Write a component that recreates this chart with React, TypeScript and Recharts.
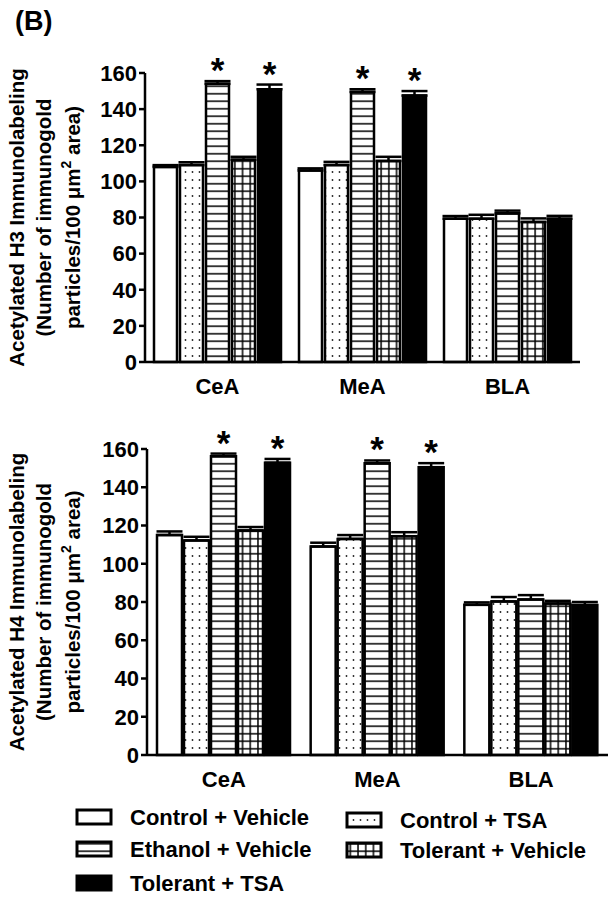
import React from "react";
import { Bar, BarChart, ErrorBar, LabelList, XAxis, YAxis } from "recharts";

const FONT = "'Liberation Sans', Arial, Helvetica, sans-serif";

const REGIONS = ["CeA", "MeA", "BLA"];
const GROUPS = [
  "Control + Vehicle",
  "Control + TSA",
  "Ethanol + Vehicle",
  "Tolerant + Vehicle",
  "Tolerant + TSA",
];
const Y_TICKS = [0, 20, 40, 60, 80, 100, 120, 140, 160];

// significance marks: Ethanol + Vehicle and Tolerant + TSA, in CeA and MeA
const STARRED_GROUPS = [2, 4];
const STARS = ["*", "*", ""];

// Acetylated H3 (means, then SEM), values in REGIONS order
const H3_CONTROL_VEHICLE = [108, 106, 79.3];
const H3_CONTROL_TSA = [109, 109, 79.3];
const H3_ETHANOL_VEHICLE = [154, 149.5, 82.3];
const H3_TOLERANT_VEHICLE = [112, 111.3, 77.5];
const H3_TOLERANT_TSA = [151, 147.5, 79.3];

const H3_SEM_CONTROL_VEHICLE = [1, 1.2, 1.5];
const H3_SEM_CONTROL_TSA = [1.6, 1.8, 2.2];
const H3_SEM_ETHANOL_VEHICLE = [1.5, 1.5, 1.5];
const H3_SEM_TOLERANT_VEHICLE = [1.6, 2.3, 2];
const H3_SEM_TOLERANT_TSA = [2.6, 2.5, 1.6];

// Acetylated H4
const H4_CONTROL_VEHICLE = [115, 109, 78.5];
const H4_CONTROL_TSA = [112.2, 113, 80.3];
const H4_ETHANOL_VEHICLE = [156.2, 152.5, 81.3];
const H4_TOLERANT_VEHICLE = [117.4, 114.4, 79.2];
const H4_TOLERANT_TSA = [152.8, 150.5, 78.4];

const H4_SEM_CONTROL_VEHICLE = [1.9, 2, 1.3];
const H4_SEM_CONTROL_TSA = [1.9, 2, 2.3];
const H4_SEM_ETHANOL_VEHICLE = [1.4, 1.5, 2.3];
const H4_SEM_TOLERANT_VEHICLE = [1.8, 2.1, 1.4];
const H4_SEM_TOLERANT_TSA = [2, 2.1, 1.6];

const FILLS = ["#fff", "url(#pat-dots)", "url(#pat-hlines)", "url(#pat-grid)", "#000"];

const LEGEND_POS = [
  { g: 0, x: 77, y: 817 },
  { g: 2, x: 77, y: 849 },
  { g: 4, x: 77, y: 883 },
  { g: 1, x: 347, y: 820 },
  { g: 3, x: 347, y: 850 },
];

function buildRows(means: number[][], sems: number[][]) {
  return REGIONS.map((region, r) => {
    const row: Record<string, unknown> = { region };
    means.forEach((m, g) => {
      row[`g${g}`] = m[r];
      row[`e${g}`] = [0, sems[g][r]];
      row[`s${g}`] = STARRED_GROUPS.includes(g) ? STARS[r] : "";
    });
    return row;
  });
}

function starLabel(means: number[], sems: number[]) {
  return (p: any) => {
    const { x, y, width, height, index, value } = p;
    if (!value) return null;
    const perUnit = Number(height) / means[index];
    const capY = Number(y) - sems[index] * perUnit;
    return (
      <text
        x={Number(x) + Number(width) / 2}
        y={capY + 1}
        textAnchor="middle"
        fontSize={35}
        fontWeight="bold"
        fontFamily={FONT}
        fill="#000"
      >
        {value}
      </text>
    );
  };
}

function Panel({
  means,
  sems,
  width,
  height,
  margin,
  catGap,
  gap,
}: {
  means: number[][];
  sems: number[][];
  width: number;
  height: number;
  margin: { top: number; right: number; bottom: number; left: number };
  catGap: number;
  gap: number;
}) {
  const rows = buildRows(means, sems);
  return (
    <BarChart
      width={width}
      height={height}
      data={rows}
      margin={margin}
      barCategoryGap={catGap}
      barGap={gap}
    >
      <XAxis
        dataKey="region"
        axisLine={{ stroke: "#000", strokeWidth: 2.5 }}
        tickLine={false}
        tickMargin={10}
        tick={{ fontSize: 22, fontWeight: "bold", fill: "#000", fontFamily: FONT }}
        height={30}
      />
      <YAxis
        domain={[0, 160]}
        ticks={Y_TICKS}
        width={60}
        axisLine={{ stroke: "#000", strokeWidth: 2.5 }}
        tickLine={{ stroke: "#000", strokeWidth: 2.5 }}
        tickSize={6}
        tick={{ fontSize: 22, fontWeight: "bold", fill: "#000", fontFamily: FONT }}
      />
      {GROUPS.map((name, g) => (
        <Bar
          key={name}
          name={name}
          dataKey={`g${g}`}
          fill={FILLS[g]}
          stroke="#000"
          strokeWidth={2.5}
          isAnimationActive={false}
        >
          <ErrorBar
            dataKey={`e${g}`}
            width={13}
            stroke="#000"
            strokeWidth={2.5}
            isAnimationActive={false}
          />
          {STARRED_GROUPS.includes(g) && (
            <LabelList dataKey={`s${g}`} content={starLabel(means[g], sems[g])} />
          )}
        </Bar>
      ))}
    </BarChart>
  );
}

function YTitle({ cy, histone }: { cy: number; histone: string }) {
  const t = (x: number) => `translate(${x},${cy}) rotate(-90)`;
  const common = {
    textAnchor: "middle" as const,
    fontSize: 20.5,
    fontWeight: "bold" as const,
    fontFamily: FONT,
    fill: "#000",
  };
  return (
    <g>
      <text transform={t(24)} {...common}>
        {`Acetylated ${histone} Immunolabeling`}
      </text>
      <text transform={t(51)} {...common}>
        (Number of immunogold
      </text>
      <text transform={t(80)} {...common}>
        particles/100 μm
        <tspan dy={-9} fontSize={14}>
          2
        </tspan>
        <tspan dy={9}> area)</tspan>
      </text>
    </g>
  );
}

function LegendIcon({ g, x, y }: { g: number; x: number; y: number }) {
  return (
    <rect
      x={x}
      y={y - 7}
      width={34}
      height={14}
      fill={FILLS[g]}
      stroke="#000"
      strokeWidth={3}
    />
  );
}

export default function App() {
  const h3Means = [H3_CONTROL_VEHICLE, H3_CONTROL_TSA, H3_ETHANOL_VEHICLE, H3_TOLERANT_VEHICLE, H3_TOLERANT_TSA];
  const h3Sems = [H3_SEM_CONTROL_VEHICLE, H3_SEM_CONTROL_TSA, H3_SEM_ETHANOL_VEHICLE, H3_SEM_TOLERANT_VEHICLE, H3_SEM_TOLERANT_TSA];
  const h4Means = [H4_CONTROL_VEHICLE, H4_CONTROL_TSA, H4_ETHANOL_VEHICLE, H4_TOLERANT_VEHICLE, H4_TOLERANT_TSA];
  const h4Sems = [H4_SEM_CONTROL_VEHICLE, H4_SEM_CONTROL_TSA, H4_SEM_ETHANOL_VEHICLE, H4_SEM_TOLERANT_VEHICLE, H4_SEM_TOLERANT_TSA];

  return (
    <div
      style={{
        position: "absolute",
        left: 0,
        top: 0,
        width: 614,
        height: 898,
        background: "#fff",
        fontFamily: FONT,
      }}
    >
      <svg width={614} height={898} style={{ position: "absolute", left: 0, top: 0 }}>
        <defs>
          <pattern id="pat-dots" patternUnits="userSpaceOnUse" width={7} height={8}>
            <rect width={7} height={8} fill="#fff" />
            <circle cx={3.5} cy={4} r={0.9} fill="#222" />
          </pattern>
          <pattern id="pat-hlines" patternUnits="userSpaceOnUse" width={8} height={7.5}>
            <rect width={8} height={7.5} fill="#fff" />
            <line x1={0} x2={8} y1={3.75} y2={3.75} stroke="#000" strokeWidth={1.5} />
          </pattern>
          <pattern id="pat-grid" patternUnits="userSpaceOnUse" width={7.7} height={7.5}>
            <rect width={7.7} height={7.5} fill="#fff" />
            <line x1={0} x2={7.7} y1={3.75} y2={3.75} stroke="#000" strokeWidth={1.5} />
            <line x1={3.85} x2={3.85} y1={0} y2={7.5} stroke="#000" strokeWidth={1.5} />
          </pattern>
        </defs>
      </svg>

      <div style={{ position: "absolute", left: 0, top: 0 }}>
        <Panel
          means={h3Means}
          sems={h3Sems}
          width={614}
          height={400}
          margin={{ top: 73, right: 34, bottom: 8, left: 85 }}
          catGap={9}
          gap={3}
        />
      </div>
      <div style={{ position: "absolute", left: 0, top: 400 }}>
        <Panel
          means={h4Means}
          sems={h4Sems}
          width={614}
          height={400}
          margin={{ top: 49, right: 6, bottom: 15, left: 87 }}
          catGap={10}
          gap={2}
        />
      </div>

      <svg
        width={614}
        height={898}
        style={{ position: "absolute", left: 0, top: 0, pointerEvents: "none" }}
      >
        <text x={15} y={30} fontSize={27} fontWeight="bold" fontFamily={FONT} fill="#000">
          (B)
        </text>
        <YTitle cy={217.5} histone="H3" />
        <YTitle cy={602} histone="H4" />
        {LEGEND_POS.map(({ g, x, y }) => (
          <g key={GROUPS[g]}>
            <LegendIcon g={g} x={x} y={y} />
            <text
              x={x + 53}
              y={y}
              dominantBaseline="central"
              fontSize={22}
              fontWeight="bold"
              fontFamily={FONT}
              fill="#000"
            >
              {GROUPS[g]}
            </text>
          </g>
        ))}
      </svg>
    </div>
  );
}
